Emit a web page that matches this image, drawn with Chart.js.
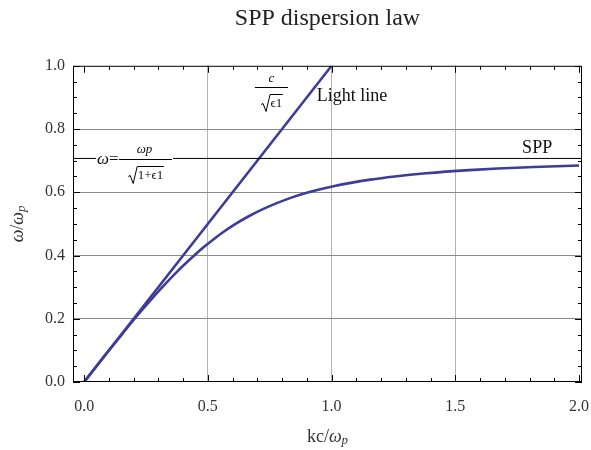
<!DOCTYPE html>
<html>
<head>
<meta charset="utf-8">
<title>SPP dispersion law</title>
<script src="https://cdn.jsdelivr.net/npm/chart.js@4.4.1/dist/chart.umd.min.js"></script>
<style>
  html, body { margin: 0; padding: 0; background: #fff; }
</style>
</head>
<body>
<canvas id="sppChart" width="591" height="450"></canvas>
<script>
// values: k in units of omega_p/c, omega in units of omega_p
const sppK     = [0, 0.100, 0.152, 0.204, 0.259, 0.316, 0.377, 0.445, 0.481, 0.521, 0.564, 0.612, 0.667, 0.731, 0.826, 0.907, 1.012, 1.157, 1.255, 1.382, 1.556, 1.672, 1.818, 2.000];
const sppOmega = [0, 0.100, 0.150, 0.200, 0.250, 0.300, 0.350, 0.400, 0.425, 0.450, 0.475, 0.500, 0.525, 0.550, 0.580, 0.600, 0.620, 0.640, 0.650, 0.660, 0.670, 0.675, 0.680, 0.6845];

// light line omega = c k / sqrt(eps1)
const lightK     = [0, 1.0];
const lightOmega = [0, 1.0];

// surface plasmon limit omega_p / sqrt(1 + eps1)
const asymptote = 0.707;

const xTicks = [0, 0.5, 1.0, 1.5, 2.0];
const yTicks = [0, 0.2, 0.4, 0.6, 0.8, 1.0];
const xMin = -0.045, xMax = 2.012;
const yMin = 0, yMax = 1.0;

const SERIF = '"Liberation Serif", "Times New Roman", serif';
const lineBlue = '#3d3d99';

let toPoints = (xs, ys) => xs.map((v, i) => ({ x: v, y: ys[i] }));

// draw several text pieces one after another, centred on cx
function drawRich(ctx, parts, cx, cy) {
  let total = 0;
  parts.forEach(p => { ctx.font = p.font; total += ctx.measureText(p.t).width; });
  let x = cx - total / 2;
  parts.forEach(p => {
    ctx.font = p.font;
    ctx.fillText(p.t, x, cy + (p.dy || 0));
    x += ctx.measureText(p.t).width;
  });
  return total;
}

// radical sign with an overbar, radicand centred on cx
function drawSqrt(ctx, parts, cx, cy) {
  let w = 0;
  parts.forEach(p => { ctx.font = p.font; w += ctx.measureText(p.t).width; });
  const start = cx - (w + 9) / 2;
  ctx.beginPath();
  ctx.moveTo(start, cy + 1);
  ctx.lineTo(start + 2, cy);
  ctx.lineTo(start + 5, cy + 8);
  ctx.lineTo(start + 9, cy - 9);
  ctx.lineTo(start + 9 + w + 1, cy - 9);
  ctx.stroke();
  let x = start + 9.5;
  parts.forEach(p => {
    ctx.font = p.font;
    ctx.fillText(p.t, x, cy + (p.dy || 0));
    x += ctx.measureText(p.t).width;
  });
}

const framePlugin = {
  id: 'frame',
  afterDatasetsDraw(chart) {
    const { ctx, chartArea: a, scales: { x, y } } = chart;
    ctx.save();

    // frame
    ctx.strokeStyle = '#000';
    ctx.lineWidth = 1;
    ctx.strokeRect(a.left + 0.5, a.top + 0.5, a.right - a.left - 1, a.bottom - a.top - 1);

    // inward ticks on all four sides
    ctx.beginPath();
    for (let i = 0; i <= 20; i++) {
      const px = Math.round(x.getPixelForValue(i / 10)) + 0.5;
      const len = i % 5 === 0 ? 7 : 4;
      ctx.moveTo(px, a.bottom); ctx.lineTo(px, a.bottom - len);
      ctx.moveTo(px, a.top); ctx.lineTo(px, a.top + len);
    }
    for (let i = 0; i <= 20; i++) {
      const py = Math.round(y.getPixelForValue(i / 20)) + 0.5;
      const len = i % 4 === 0 ? 7 : 4;
      ctx.moveTo(a.left, py); ctx.lineTo(a.left + len, py);
      ctx.moveTo(a.right, py); ctx.lineTo(a.right - len, py);
    }
    ctx.stroke();

    ctx.fillStyle = '#111';
    ctx.textBaseline = 'middle';
    ctx.textAlign = 'left';

    // omega = omega_p / sqrt(1 + eps1) label, white box hides the line behind it
    const lx = x.getPixelForValue(0.052);
    const ly = y.getPixelForValue(asymptote);
    ctx.fillStyle = '#fff';
    ctx.fillRect(lx - 1, ly - 6, 77, 10);
    ctx.fillStyle = '#111';
    ctx.font = 'italic 17px ' + SERIF;
    ctx.fillText('\u03c9', lx, ly + 1);
    let wOm = ctx.measureText('\u03c9').width;
    ctx.font = '17px ' + SERIF;
    ctx.fillText('=', lx + wOm, ly + 1);
    const barL = x.getPixelForValue(0.141), barR = x.getPixelForValue(0.355);
    const barY = Math.round(ly) + 1.5;
    ctx.beginPath();
    ctx.moveTo(barL, barY); ctx.lineTo(barR, barY);
    ctx.stroke();
    drawRich(ctx, [{ t: '\u03c9p', font: 'italic 13px ' + SERIF }], (barL + barR) / 2 - 1, barY - 10);
    drawSqrt(ctx, [{ t: '1+\u03f51', font: '13px ' + SERIF }], (barL + barR) / 2, barY + 16);

    // c / sqrt(eps1) label next to the light line
    const cL = x.getPixelForValue(0.69), cR = x.getPixelForValue(0.824);
    const cY = Math.round(y.getPixelForValue(0.934)) + 0.5;
    ctx.beginPath();
    ctx.moveTo(cL, cY); ctx.lineTo(cR, cY);
    ctx.stroke();
    drawRich(ctx, [{ t: 'c', font: 'italic 13px ' + SERIF }], (cL + cR) / 2, cY - 9);
    drawSqrt(ctx, [{ t: '\u03f51', font: '13px ' + SERIF }], (cL + cR) / 2, cY + 16);

    // curve names
    ctx.font = '18px ' + SERIF;
    ctx.fillText('Light line', x.getPixelForValue(0.94), y.getPixelForValue(0.905));
    ctx.fillText('SPP', x.getPixelForValue(1.77), y.getPixelForValue(0.738));

    // axis titles
    ctx.fillStyle = '#333';
    drawRich(ctx, [
      { t: 'kc/', font: '18px ' + SERIF },
      { t: '\u03c9', font: 'italic 18px ' + SERIF },
      { t: 'p', font: 'italic 13px ' + SERIF, dy: 4 }
    ], (a.left + a.right) / 2, 437);

    ctx.translate(18, (a.top + a.bottom) / 2);
    ctx.rotate(-Math.PI / 2);
    drawRich(ctx, [
      { t: '\u03c9', font: 'italic 18px ' + SERIF },
      { t: '/', font: '18px ' + SERIF },
      { t: '\u03c9', font: 'italic 18px ' + SERIF },
      { t: 'p', font: 'italic 13px ' + SERIF, dy: 4 }
    ], 0, 0);

    ctx.restore();
  }
};

let isInner = (v, lo, hi) => Math.abs(v - lo) > 1e-6 && Math.abs(v - hi) > 1e-6;

new Chart(document.getElementById('sppChart'), {
  type: 'scatter',
  data: {
    datasets: [
      {
        label: 'asymptote',
        data: toPoints([xMin, xMax], [asymptote, asymptote]),
        showLine: true,
        borderColor: '#000',
        borderWidth: 1,
        pointRadius: 0
      },
      {
        label: 'SPP',
        data: toPoints(sppK, sppOmega),
        showLine: true,
        borderColor: lineBlue,
        borderWidth: 2.6,
        pointRadius: 0,
        cubicInterpolationMode: 'monotone'
      },
      {
        label: 'Light line',
        data: toPoints(lightK, lightOmega),
        showLine: true,
        borderColor: lineBlue,
        borderWidth: 2.6,
        pointRadius: 0
      }
    ]
  },
  options: {
    responsive: false,
    animation: false,
    layout: { padding: { right: 9, left: 0, top: 0, bottom: 0 } },
    plugins: {
      legend: { display: false },
      tooltip: { enabled: false },
      title: {
        display: true,
        text: 'SPP dispersion law',
        fullSize: false,
        color: '#222',
        font: { family: SERIF, size: 24, weight: 'normal' },
        padding: { top: 4, bottom: 33 }
      }
    },
    scales: {
      x: {
        type: 'linear',
        min: xMin,
        max: xMax,
        afterBuildTicks: s => { s.ticks = xTicks.map(v => ({ value: v })); },
        afterFit: s => { s.height = 68; s.paddingLeft = 0; s.paddingRight = 0; },
        ticks: {
          padding: 15,
          color: '#333',
          font: { family: SERIF, size: 16 },
          callback: v => v.toFixed(1)
        },
        grid: {
          drawTicks: false,
          color: c => isInner(c.tick.value, 0, 2) ? '#b4b4b4' : 'rgba(0,0,0,0)',
          lineWidth: 1
        },
        border: { display: false }
      },
      y: {
        type: 'linear',
        min: yMin,
        max: yMax,
        afterBuildTicks: s => { s.ticks = yTicks.map(v => ({ value: v })); },
        afterFit: s => { s.width = 73; s.paddingTop = 0; s.paddingBottom = 0; },
        ticks: {
          padding: 8,
          color: '#333',
          font: { family: SERIF, size: 16 },
          callback: v => v.toFixed(1)
        },
        grid: {
          drawTicks: false,
          color: c => isInner(c.tick.value, 0, 1) ? '#8a8a8a' : 'rgba(0,0,0,0)',
          lineWidth: 1
        },
        border: { display: false }
      }
    }
  },
  plugins: [framePlugin]
});
</script>
</body>
</html>
